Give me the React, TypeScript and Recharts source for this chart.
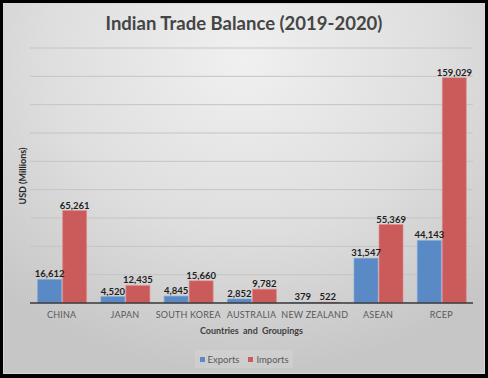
import { BarChart, Bar, XAxis, YAxis, CartesianGrid, LabelList } from 'recharts';

const CATEGORIES = ['CHINA', 'JAPAN', 'SOUTH KOREA', 'AUSTRALIA', 'NEW ZEALAND', 'ASEAN', 'RCEP'];
const EXPORTS = [16612, 4520, 4845, 2852, 379, 31547, 44143];
const IMPORTS = [65261, 12435, 15660, 9782, 522, 55369, 159029];
const Y_TICKS = [0, 20000, 40000, 60000, 80000, 100000, 120000, 140000, 160000, 180000];

const DATA = CATEGORIES.map((name, i) => ({ name, exports: EXPORTS[i], imports: IMPORTS[i] }));

const FONT = 'Lato, "Open Sans", sans-serif';
const BLUE = '#5a8ac6';
const RED = '#cb5b5a';

const fmt = (v: number) => v.toLocaleString('en-US');

export default function App() {
  return (
    <div style={{ position: 'absolute', left: 0, top: 0, width: 488, height: 378, background: '#000', fontFamily: FONT }}>
      <div
        style={{
          position: 'absolute',
          left: 3,
          top: 3,
          width: 480,
          height: 369,
          border: '1px solid #d8d8d8',
          background: 'radial-gradient(ellipse 75% 85% at 50% 15%, #f0f0f0 0%, #dedede 55%, #c6c6c6 100%)',
        }}
      />
      <div
        style={{
          position: 'absolute',
          left: 0,
          top: 12,
          width: 488,
          textAlign: 'center',
          fontSize: 18.5,
          fontWeight: 700,
          color: '#454545',
        }}
      >
        Indian Trade Balance (2019-2020)
      </div>
      <div style={{ position: 'absolute', left: 0, top: 0 }}>
        <BarChart
          width={488}
          height={378}
          data={DATA}
          margin={{ top: 48, right: 15, bottom: 45, left: 30 }}
          barCategoryGap="12%"
          barGap={1}
        >
          <CartesianGrid horizontal vertical={false} stroke="#c4c4c4" strokeWidth={1} />
          <YAxis hide domain={[0, 180000]} ticks={Y_TICKS} />
          <XAxis
            dataKey="name"
            height={30}
            tickLine={false}
            axisLine={{ stroke: '#3a3a3a', strokeWidth: 1.5 }}
            tick={{ fontSize: 9, fill: '#595959', fontFamily: FONT, letterSpacing: 0.2 }}
            tickMargin={3}
            interval={0}
          />
          <Bar dataKey="exports" fill={BLUE} stroke="#7ea6d8" strokeWidth={0.6} isAnimationActive={false}>
            <LabelList dataKey="exports" position="top" offset={2} formatter={fmt} style={{ fontSize: 9.5, fontWeight: 700, fill: '#1e1e1e', fontFamily: FONT }} />
          </Bar>
          <Bar dataKey="imports" fill={RED} stroke="#e08a89" strokeWidth={0.6} isAnimationActive={false}>
            <LabelList dataKey="imports" position="top" offset={2} formatter={fmt} style={{ fontSize: 9.5, fontWeight: 700, fill: '#1e1e1e', fontFamily: FONT }} />
          </Bar>
        </BarChart>
      </div>
      <div
        style={{
          position: 'absolute',
          left: 22,
          top: 176,
          transform: 'translate(-50%, -50%) rotate(-90deg)',
          fontSize: 9,
          fontWeight: 700,
          color: '#262626',
          whiteSpace: 'nowrap',
        }}
      >
        USD (Millions)
      </div>
      <div
        style={{
          position: 'absolute',
          left: 30,
          width: 443,
          top: 325,
          textAlign: 'center',
          fontSize: 9,
          fontWeight: 700,
          color: '#404040',
          wordSpacing: 2,
        }}
      >
        Countries and Groupings
      </div>
      <div
        style={{
          position: 'absolute',
          left: 195,
          top: 350,
          width: 98,
          height: 18,
          background: 'rgba(255,255,255,0.12)',
          display: 'flex',
          alignItems: 'center',
          justifyContent: 'center',
          gap: 9,
          fontSize: 9.5,
          color: '#595959',
        }}
      >
        <span style={{ display: 'flex', alignItems: 'center', gap: 3 }}>
          <span style={{ width: 5, height: 5, background: BLUE, display: 'inline-block' }} />
          Exports
        </span>
        <span style={{ display: 'flex', alignItems: 'center', gap: 3 }}>
          <span style={{ width: 5, height: 5, background: RED, display: 'inline-block' }} />
          Imports
        </span>
      </div>
    </div>
  );
}
